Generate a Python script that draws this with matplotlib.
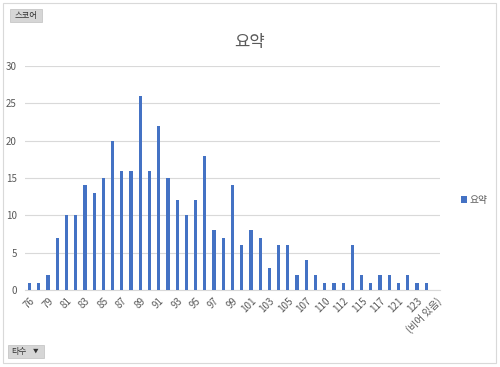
import matplotlib
matplotlib.use("Agg")
import matplotlib.pyplot as plt
import numpy as np
from matplotlib.patches import Rectangle

plt.rcParams["font.family"] = ["Noto Sans CJK KR", "DejaVu Sans"]

# 타수 categories (only every other one is labelled in the reference)
categories = ["76", "78", "79", "80", "81", "82", "83", "84", "85", "86",
              "87", "88", "89", "90", "91", "92", "93", "94", "95", "96",
              "97", "98", "99", "100", "101", "102", "103", "104", "105", "106",
              "107", "108", "110", "111", "112", "113", "115", "116", "117", "119",
              "121", "122", "123", "124", "(비어 있음)"]
counts = [1, 1, 2, 7, 10, 10, 14, 13, 15, 20,
          16, 16, 26, 16, 22, 15, 12, 10, 12, 18,
          8, 7, 14, 6, 8, 7, 3, 6, 6, 2,
          4, 2, 1, 1, 1, 6, 2, 1, 2, 2,
          1, 2, 1, 1, None]
y_ticks = [0, 5, 10, 15, 20, 25, 30]

W, H = 500, 367
fig = plt.figure(figsize=(W / 100, H / 100), dpi=100)
fig.patch.set_facecolor("white")


def px(x0, y0, x1, y1):
    # pixel box (top-left origin) -> figure fraction rect
    return [x0 / W, 1 - y1 / H, (x1 - x0) / W, (y1 - y0) / H]


# chart border
fig.patches.append(Rectangle((3 / W, 4 / H), 493 / W, 360 / H,
                             transform=fig.transFigure, fill=False,
                             edgecolor="#d9d9d9", linewidth=0.8))

ax = fig.add_axes(px(25, 66, 440, 290))
x = np.arange(len(categories))
vals = np.array([np.nan if v is None else v for v in counts], dtype=float)
ax.bar(x, vals, width=0.36, color="#4472c4", label="요약", zorder=3)

ax.set_xlim(-0.5, len(categories) - 0.5)
ax.set_ylim(0, 30)
ax.set_yticks(y_ticks)
ax.yaxis.grid(True, color="#d9d9d9", linewidth=0.8)
ax.set_axisbelow(True)
for s in ["top", "right", "left"]:
    ax.spines[s].set_visible(False)
ax.spines["bottom"].set_color("#d9d9d9")
ax.spines["bottom"].set_linewidth(0.8)
ax.tick_params(length=0, labelsize=7, colors="#595959", pad=6)

ax.set_xticks(x[::2])
ax.set_xticklabels(categories[::2], rotation=45, ha="right", va="top",
                   rotation_mode="anchor", fontsize=7, color="#595959")
ax.tick_params(axis="x", pad=4)

fig.text(250 / W, 1 - 43 / H, "요약", ha="center", va="center",
         fontsize=12, color="#595959")

ax.legend(loc="center left", bbox_to_anchor=(452 / W, 1 - 200 / H),
          bbox_transform=fig.transFigure, frameon=False, fontsize=7,
          handlelength=0.6, handleheight=0.6, handletextpad=0.3,
          labelcolor="#595959")

# pivot field buttons
for (bx0, by0, bx1, by1, label) in [(10, 9, 42, 22, "스코어"),
                                     (8, 345, 44, 358, "타수")]:
    fig.patches.append(Rectangle((bx0 / W, 1 - by1 / H), (bx1 - bx0) / W,
                                 (by1 - by0) / H, transform=fig.transFigure,
                                 facecolor="#d6d6d6", edgecolor="#c0c0c0",
                                 linewidth=0.5))
    cx = (bx0 + bx1) / 2 if label == "스코어" else bx0 + 11
    fig.text(cx / W, 1 - (by0 + by1) / 2 / H, label,
             ha="center", va="center", fontsize=6, color="#333333")
fig.text(36 / W, 1 - 351.5 / H, "▼", ha="center", va="center",
         fontsize=4, color="#333333")

fig.savefig("out.png", dpi=100, facecolor="white")
